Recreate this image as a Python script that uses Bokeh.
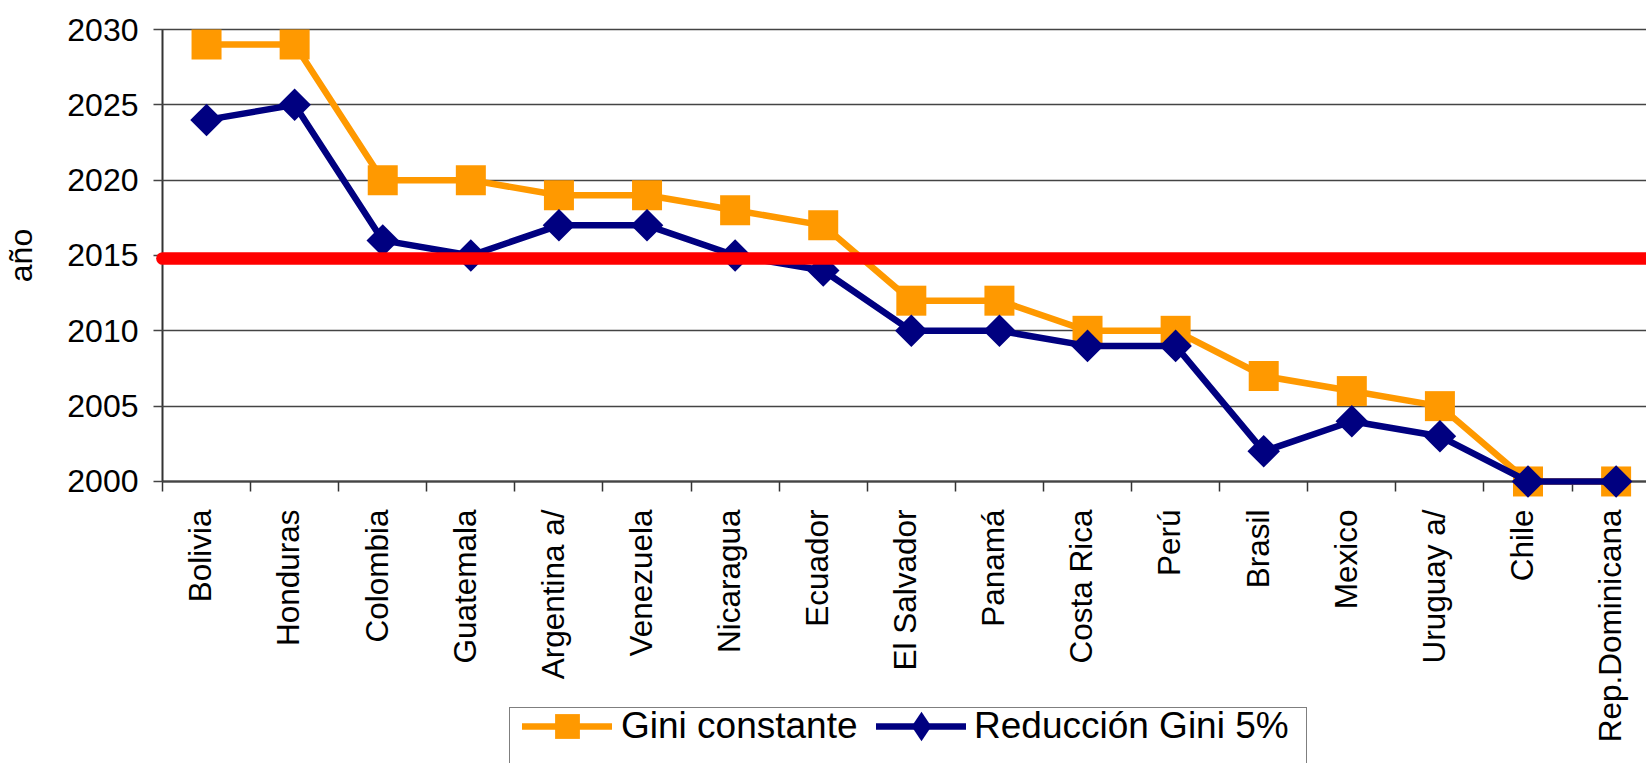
import math
from bokeh.plotting import figure
from bokeh.models import (Range1d, FixedTicker, CustomJSTickFormatter, Legend, LegendItem, Label)
from bokeh.embed import file_html
from bokeh.resources import INLINE

# ---------------- data ----------------
countries = ["Bolivia", "Honduras", "Colombia", "Guatemala", "Argentina a/", "Venezuela",
             "Nicaragua", "Ecuador", "El Salvador", "Panamá", "Costa Rica", "Perú",
             "Brasil", "Mexico", "Uruguay a/", "Chile", "Rep.Dominicana"]
gini_constante = [2029, 2029, 2020, 2020, 2019, 2019, 2018, 2017, 2012, 2012,
                  2010, 2010, 2007, 2006, 2005, 2000, 2000]
reduccion_gini = [2024, 2025, 2016, 2015, 2017, 2017, 2015, 2014, 2010, 2010,
                  2009, 2009, 2002, 2004, 2003, 2000, 2000]
y_ticks = [2000, 2005, 2010, 2015, 2020, 2025, 2030]
anio_meta = 2014.8
serie_names = ["Gini constante", "Reducción Gini 5%"]
y_title = "año"

ORANGE = "#FF9900"
NAVY = "#000080"
RED = "#FF0000"
FONT = "Liberation Sans"
GRID = "#444444"

n = len(countries)
xs = [i + 0.5 for i in range(n)]
bounds = list(range(n + 1))
label_shift = 0.07  # small leftward nudge of the category labels (style)
y_min, y_max = y_ticks[0], y_ticks[-1]

p = figure(width=1646, height=763,
           x_range=Range1d(-1.8388, 16.845), y_range=Range1d(1981.28, 2031.925),
           output_backend="svg", toolbar_location=None,
           min_border_left=0, min_border_right=0,
           min_border_top=0, min_border_bottom=0)
p.outline_line_color = None
p.background_fill_color = "white"
p.border_fill_color = "white"
p.xgrid.visible = False
p.ygrid.visible = False

# y axis, pinned at x = 0 inside the frame; long inward ticks act as grid lines
ya = p.yaxis[0]
ya.ticker = FixedTicker(ticks=y_ticks)
ya.fixed_location = 0
ya.bounds = (y_min, y_max)
ya.major_tick_out = 9
ya.major_tick_in = 1490
ya.minor_tick_out = 0
ya.minor_tick_in = 0
ya.major_tick_line_color = GRID
ya.major_tick_line_width = 1.3
ya.axis_line_color = "#333333"
ya.axis_line_width = 2
ya.major_label_standoff = 15
ya.major_label_text_font = FONT
ya.major_label_text_font_size = "32px"
ya.major_label_text_color = "black"
ya.level = "underlay"

# y title centred on the axis extent
p.add_layout(Label(x=20.5, x_units="screen", y=(y_min + y_max) / 2, text=y_title,
                   angle=math.pi / 2, text_align="center", text_baseline="alphabetic",
                   text_font=FONT, text_font_size="32px", text_color="black"))

# x axis pinned at 2000 inside the tall frame
xa = p.xaxis[0]
xa.ticker = FixedTicker(ticks=[x - label_shift for x in xs], minor_ticks=bounds)
xa.formatter = CustomJSTickFormatter(
    args=dict(names=countries),
    code="const i = Math.round(tick - 0.5); return (i >= 0 && i < names.length) ? names[i] : '';")
xa.fixed_location = y_min
xa.bounds = (0, n)
xa.major_label_orientation = math.pi / 2
xa.major_tick_out = 0
xa.major_tick_in = 0
xa.major_tick_line_color = None
xa.minor_tick_out = 10
xa.minor_tick_in = 0
xa.minor_tick_line_color = "#333333"
xa.minor_tick_line_width = 1.5
xa.axis_line_color = "#666666"
xa.axis_line_width = 2.5
xa.major_label_standoff = 18
xa.major_label_text_font = FONT
xa.major_label_text_font_size = "31.5px"
xa.major_label_text_color = "black"
xa.level = "underlay"

# series
l1 = p.line(xs, gini_constante, line_color=ORANGE, line_width=6.5, line_join="round", line_cap="round")
m1 = p.scatter(xs, gini_constante, marker="square", size=30,
               fill_color=ORANGE, line_color=ORANGE, line_width=0)
l2 = p.line(xs, reduccion_gini, line_color=NAVY, line_width=6.5, line_join="round", line_cap="round")
m2 = p.scatter(xs, reduccion_gini, marker="square", angle=math.pi / 4, size=23,
               fill_color=NAVY, line_color=NAVY, line_width=0)
p.line([0, n], [anio_meta, anio_meta], line_color=RED, line_width=12.7, line_cap="round")

# legend-only glyphs (kept outside the visible ranges)
dummy = p.scatter([-5], [1970], marker="square", size=1, fill_alpha=0, line_alpha=0)
dmd = p.scatter([-5], [1970], marker="diamond", size=1, fill_color=NAVY, line_color=NAVY, line_width=0)

# legend box (frame only)
box = Legend(items=[LegendItem(label=" ", renderers=[dummy])],
             location=(509, -16), orientation="horizontal",
             padding=0, margin=0, spacing=0,
             glyph_width=10, glyph_height=70, label_standoff=0,
             label_width=786, label_height=70,
             border_line_color="black", border_line_width=1,
             background_fill_color="white", background_fill_alpha=1,
             label_text_font_size="10px")
p.add_layout(box)

common = dict(orientation="horizontal", padding=0, margin=0, spacing=0,
              label_text_font=FONT, label_text_font_size="37px",
              label_text_color="black", border_line_alpha=0,
              background_fill_alpha=0, glyph_width=90)

leg1 = Legend(items=[LegendItem(label=serie_names[0], renderers=[l1, m1])],
              location=(522, 6.5), glyph_height=62, label_standoff=9, **common)
leg2 = Legend(items=[LegendItem(label=serie_names[1], renderers=[l2, dmd])],
              location=(876, 0.5), glyph_height=74, label_standoff=8, **common)
p.add_layout(leg1)
p.add_layout(leg2)

open("out.html", "w").write(file_html(p, INLINE))
